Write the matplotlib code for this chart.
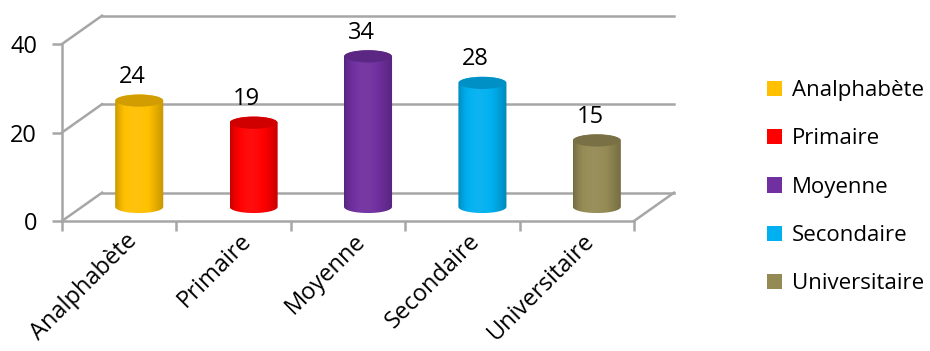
import numpy as np
import matplotlib
matplotlib.use('Agg')
import matplotlib.pyplot as plt
from matplotlib.patches import PathPatch, Ellipse, Patch
from matplotlib.path import Path
from matplotlib.colors import to_rgb

categories = ['Analphabète', 'Primaire', 'Moyenne', 'Secondaire', 'Universitaire']
values = [24, 19, 34, 28, 15]
colors = ['#FFC000', '#FF0000', '#7030A0', '#00B0F0', '#948A54']
y_ticks = [0, 20, 40]

plt.rcParams['font.family'] = ['Open Sans', 'DejaVu Sans']

# 3D look: depth shift of the back wall, in data units
dx, dy = 0.35, 6.4
grid_col = '#a6a6a6'
bar_w = 0.42
ell_h = 1.4

fig = plt.figure(figsize=(9.3, 3.51), dpi=100)
ax = fig.add_axes([62 / 930, (351 - 221) / 351, 572 / 930, 177 / 351])
n = len(categories)


def cylinder(ax, cx, base, top, w, eh, color):
    base_rgb = np.array(to_rgb(color))
    t = np.linspace(0, 1, 60)
    f = 0.78 + 0.30 * np.sin(np.pi * t ** 0.8)
    rgb = np.clip(base_rgb[None, :] * np.minimum(f, 1.0)[:, None], 0, 1)
    hi = np.clip(f - 1.0, 0, None)[:, None]
    rgb = rgb + (1 - rgb) * hi * 0.6
    img = np.repeat(rgb[None, :, :], 2, axis=0)

    th1 = np.linspace(np.pi, 2 * np.pi, 40)
    th2 = np.linspace(0, np.pi, 40)
    xs = np.concatenate([cx + w / 2 * np.cos(th1), cx + w / 2 * np.cos(th2)])
    ys = np.concatenate([base + eh * np.sin(th1), top + eh * np.sin(th2)])
    verts = np.column_stack([xs, ys])
    path = Path(np.vstack([verts, verts[:1]]), closed=True)
    patch = PathPatch(path, facecolor='none', edgecolor='none', zorder=3)
    ax.add_patch(patch)
    im = ax.imshow(img, extent=(cx - w / 2, cx + w / 2, base - eh, top + eh),
                   aspect='auto', zorder=3, interpolation='bilinear')
    im.set_clip_path(patch)
    ax.add_patch(Ellipse((cx, top), w * 0.98, 2 * eh * 0.98,
                         facecolor=np.clip(base_rgb * 0.82, 0, 1),
                         edgecolor='none', zorder=4))


# back wall and floor
for v in y_ticks:
    ax.plot([dx, n + dx], [v + dy, v + dy], color=grid_col, lw=1.8,
            clip_on=False, zorder=1)
    ax.plot([0, dx], [v, v + dy], color=grid_col, lw=1.8,
            clip_on=False, zorder=1)
ax.plot([n, n + dx], [0, dy], color=grid_col, lw=1.8, clip_on=False, zorder=1)

for i, (v, c) in enumerate(zip(values, colors)):
    cx = i + 0.5 + dx / 2
    base = dy / 2
    cylinder(ax, cx, base, base + v, bar_w, ell_h, c)
    ax.text(cx - 0.06, base + v + ell_h + 1.2, str(v), ha='center',
            va='bottom', fontsize=17, zorder=5)

ax.set_xlim(0, n)
ax.set_ylim(0, 40)
for s in ['top', 'right']:
    ax.spines[s].set_visible(False)
for s in ['left', 'bottom']:
    ax.spines[s].set_color(grid_col)
    ax.spines[s].set_linewidth(1.8)

ax.set_yticks(y_ticks)
ax.set_yticklabels([str(v) for v in y_ticks], fontsize=17)
ax.set_xticks(range(n + 1))
ax.set_xticklabels([''] * (n + 1))
ax.set_xticks([i + 0.5 + 0.05 for i in range(n)], minor=True)
ax.set_xticklabels(categories, minor=True, rotation=45, ha='right',
                   rotation_mode='anchor', fontsize=17)
ax.tick_params(axis='x', which='major', length=7, width=1.8, color=grid_col)
ax.tick_params(axis='x', which='minor', length=0, pad=6)
ax.tick_params(axis='y', length=7, width=1.8, color=grid_col, pad=11)
ax.patch.set_visible(False)

handles = [Patch(facecolor=c, edgecolor='none') for c in colors]
fig.legend(handles, categories, loc='upper left',
           bbox_to_anchor=(767 / 930, 1 - 80 / 351), frameon=False,
           fontsize=16, handlelength=0.68, handleheight=0.68,
           handletextpad=0.45, labelspacing=1.23, borderpad=0,
           borderaxespad=0)

fig.savefig('out.png', dpi=100)
